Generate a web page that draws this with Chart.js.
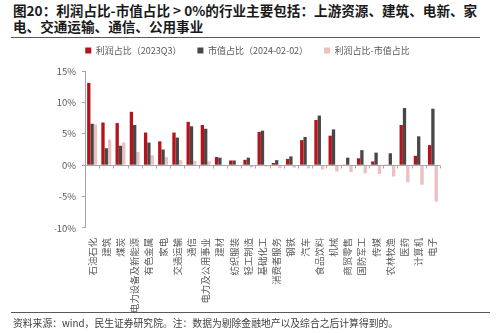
<!DOCTYPE html>
<html>
<head>
<meta charset="utf-8">
<script src="https://cdn.jsdelivr.net/npm/chart.js@4/dist/chart.umd.min.js"></script>
<style>
  body { margin: 0; background: #fff; font-family: "Noto Sans CJK SC", "Noto Sans", sans-serif; }
  #page { position: relative; width: 500px; height: 333px; overflow: hidden; }
  #title { position: absolute; left: 13px; top: 3px; font-size: 13.6px; font-weight: bold; line-height: 15.5px; color: #1a1a1a; }
  #titleRule { position: absolute; left: 11px; top: 37px; width: 469px; height: 1px; background: #595959; }
  #chartBox { position: absolute; left: 0; top: 28px; width: 500px; height: 287px; }
  #footRule { position: absolute; left: 11px; top: 312px; width: 479px; height: 1px; background: #595959; }
  #foot { position: absolute; left: 13px; top: 316px; font-size: 9.8px; color: #404040; white-space: nowrap; }
</style>
</head>
<body>
<div id="page">
  <div id="title">图20：利润占比-市值占比 &gt; 0%的行业主要包括：上游资源、建筑、电新、家<br>电、交通运输、通信、公用事业</div>
  <div id="titleRule"></div>
  <div id="chartBox"><canvas id="barChart"></canvas></div>
  <div id="footRule"></div>
  <div id="foot">资料来源：wind，民生证券研究院。注：数据为剔除金融地产以及综合之后计算得到的。</div>
</div>
<script>
const categories = ["石油石化", "建筑", "煤炭", "电力设备及新能源", "有色金属", "家电", "交通运输", "通信",
    "电力及公用事业", "建材", "纺织服装", "轻工制造", "基础化工", "消费者服务", "钢铁", "汽车",
    "食品饮料", "机械", "商贸零售", "国防军工", "传媒", "农林牧渔", "医药", "计算机", "电子"];

// 利润占比（2023Q3），%
const profitShare = [13.1, 6.8, 6.7, 8.5, 5.2, 3.8, 5.2, 6.9, 6.4, 1.3, 0.75, 0.85, 5.3,
    0.35, 1.0, 4.0, 7.2, 4.7, 0.1, 1.1, 0.6, 0.1, 6.4, 1.5, 3.2];
// 市值占比（2024-02-02），%
const mvShare = [6.6, 2.7, 3.1, 6.4, 3.6, 2.5, 4.4, 6.2, 5.8, 1.2, 0.75, 1.2, 5.5,
    0.8, 1.4, 4.5, 7.9, 5.7, 1.2, 2.4, 2.0, 1.9, 9.1, 4.6, 9.0];
// 利润占比-市值占比，%
const shareGap = [6.5, 4.1, 3.6, 2.1, 1.6, 1.3, 0.8, 0.7, 0.6, 0.1, 0.0, -0.35, -0.2,
    -0.45, -0.4, -0.5, -0.7, -1.0, -1.1, -1.3, -1.4, -1.8, -2.7, -3.1, -5.8];

const yTicks = [-10, -5, 0, 5, 10, 15];

const seriesNames = ["利润占比（2023Q3）", "市值占比（2024-02-02）", "利润占比-市值占比"];
const seriesColors = ["#B5121B", "#474747", "#EBC0C0"];

const textColor = "#595959";
const axisColor = "#A6A6A6";
const fontFamily = '"Noto Sans CJK SC", "Noto Sans", sans-serif';

// zero line with small category ticks under it
const zeroAxis = {
    id: "zeroAxis",
    afterDatasetsDraw(chart) {
        const { ctx, chartArea } = chart;
        const y0 = Math.round(chart.scales.y.getPixelForValue(0)) + 0.5;
        const n = categories.length;
        const step = (chartArea.right - chartArea.left) / n;
        ctx.save();
        ctx.strokeStyle = axisColor;
        ctx.lineWidth = 1;
        ctx.beginPath();
        ctx.moveTo(chartArea.left, y0);
        ctx.lineTo(chartArea.right, y0);
        for (let i = 1; i <= n; i++) {
            const x = Math.round(chartArea.left + i * step) + 0.5;
            ctx.moveTo(x, y0);
            ctx.lineTo(x, y0 + 3);
        }
        ctx.stroke();
        ctx.restore();
    }
};

// a bit more room between legend and plot
const legendGap = {
    id: "legendGap",
    beforeInit(chart) {
        const fit = chart.legend.fit;
        chart.legend.fit = function () {
            fit.bind(chart.legend)();
            this.height += 6;
        };
    }
};

new Chart(document.getElementById("barChart"), {
    type: "bar",
    data: {
        labels: categories,
        datasets: [profitShare, mvShare, shareGap].map((values, i) => ({
            label: seriesNames[i],
            data: values,
            backgroundColor: seriesColors[i],
            barPercentage: 1,
            categoryPercentage: 0.7
        }))
    },
    options: {
        responsive: true,
        maintainAspectRatio: false,
        animation: false,
        layout: { padding: { left: 55, right: 60, top: 2, bottom: 0 } },
        plugins: {
            legend: {
                position: "top",
                maxWidth: 500,
                labels: {
                    boxWidth: 6,
                    boxHeight: 6,
                    padding: 16,
                    color: textColor,
                    font: { family: fontFamily, size: 9 }
                }
            },
            tooltip: { enabled: false }
        },
        scales: {
            x: {
                grid: { display: false },
                border: { display: false },
                ticks: {
                    autoSkip: false,
                    minRotation: 90,
                    maxRotation: 90,
                    padding: 2,
                    color: textColor,
                    font: { family: fontFamily, size: 9.4 }
                }
            },
            y: {
                min: -10,
                max: 15,
                afterBuildTicks: scale => { scale.ticks = yTicks.map(v => ({ value: v })); },
                afterFit: scale => { scale.width = 30; },
                grid: { display: true, drawOnChartArea: false, drawTicks: true, tickLength: 3, color: axisColor },
                border: { display: true, color: axisColor },
                ticks: {
                    padding: 6,
                    color: textColor,
                    font: { family: fontFamily, size: 9.5 },
                    callback: v => v + "%"
                }
            }
        }
    },
    plugins: [zeroAxis, legendGap]
});
</script>
</body>
</html>
